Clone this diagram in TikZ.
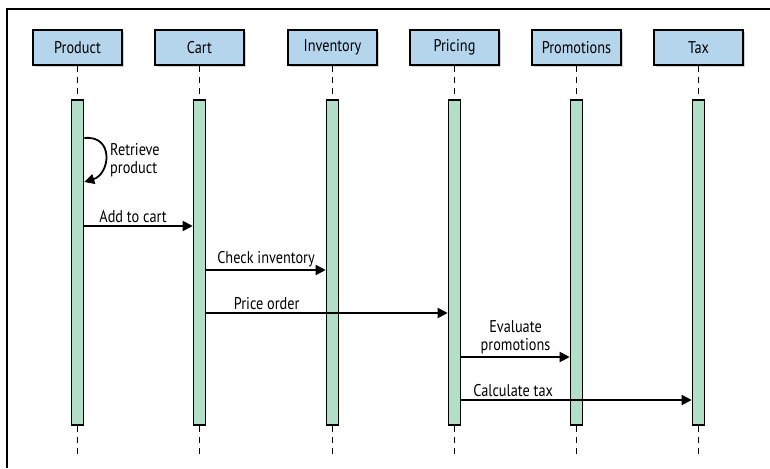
\documentclass[tikz,border=0pt]{standalone}
\usepackage{fontspec}
\setmainfont{PT Sans}[FakeStretch=0.84]
\usepackage{tikz}
\usetikzlibrary{arrows.meta,shadows,positioning}

\definecolor{actorblue}{HTML}{B4D5EC}
\definecolor{bargreen}{HTML}{B2DFC8}

\begin{document}
\begin{tikzpicture}[x=1pt,y=-1pt,
			every node/.style={font=\fontsize{17}{18}\selectfont},
			actor/.style={draw,line width=1.8pt,fill=actorblue,minimum width=89pt,minimum height=35pt,
				drop shadow={opacity=0.35,shadow xshift=2pt,shadow yshift=-2pt}},
			bar/.style={draw,line width=1.6pt,fill=bargreen,minimum width=12pt,minimum height=325pt,inner sep=0pt},
			lifeline/.style={line width=1.6pt,dash pattern=on 6pt off 5pt},
			msg/.style={line width=1.8pt,-{Triangle[length=10pt,width=10pt]}},
			lbl/.style={above,inner sep=2pt,align=center}]

			\useasboundingbox (0,0) rectangle (770,468);
			\draw[line width=1.2pt] (770,9) -- (7,9) -- (7,468);

			% lanes: header box, activation bar, dashed lifeline
			\foreach \name/\title/\x in {product/Product/77.5,cart/Cart/199.5,inventory/Inventory/332.5,
					pricing/Pricing/454.5,promotions/Promotions/576.5,tax/Tax/698.5} {
				\node[actor] (\name) at (\x,47.5) {\title};
				\node[bar] (\name-bar) at (\x,262.5) {};
				\coordinate (\name-end) at (\x,456);
				\draw[lifeline] (\name.south) -- (\name-bar.north);
				\draw[lifeline] (\name-bar.south) -- (\name-end);
			}

			% messages
			\draw[msg] (product-bar.east |- 0,138) .. controls +(30,-3) and +(26,-8) .. (product-bar.east |- 0,182);
			\node[anchor=west,align=left,inner sep=0pt] (retrieve) at (110,160) {Retrieve\\product};

			\draw[msg] (product-bar.east |- 0,226) -- (cart-bar.west |- 0,226)
				node[lbl,pos=0.45] {Add to cart};
			\draw[msg] (cart-bar.east |- 0,270) -- (inventory-bar.west |- 0,270)
				node[lbl,midway] {Check inventory};
			\draw[msg] (cart-bar.east |- 0,313) -- (pricing-bar.west |- 0,313)
				node[lbl,pos=0.25] {Price order};
			\draw[msg] (pricing-bar.east |- 0,357) -- (promotions-bar.west |- 0,357)
				node[lbl,midway] {Evaluate\\promotions};
			\draw[msg] (pricing-bar.east |- 0,400) -- (tax-bar.west |- 0,400)
				node[lbl,pos=0.225] {Calculate tax};
	\end{tikzpicture}
\end{document}
